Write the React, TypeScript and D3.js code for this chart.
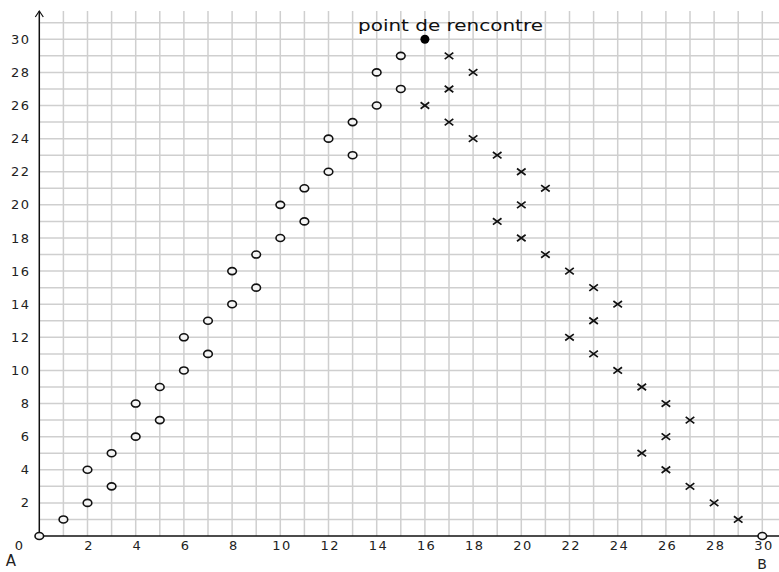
import React from "react";
import * as d3 from "d3";

const circleX = [0, 1, 2, 2, 3, 3, 4, 4, 5, 5, 6, 6, 7, 7, 8, 8, 9, 9, 10, 10, 11, 11, 12, 12, 13, 13, 14, 14, 15, 15, 30];
const circleY = [0, 1, 2, 4, 3, 5, 6, 8, 7, 9, 10, 12, 11, 13, 14, 16, 15, 17, 18, 20, 19, 21, 22, 24, 23, 25, 26, 28, 27, 29, 0];
const crossX = [16, 17, 17, 17, 18, 18, 19, 19, 20, 20, 20, 21, 21, 22, 22, 23, 23, 23, 24, 24, 25, 25, 26, 26, 26, 27, 27, 28, 29];
const crossY = [26, 29, 27, 25, 28, 24, 23, 19, 22, 20, 18, 21, 17, 16, 12, 15, 13, 11, 14, 10, 9, 5, 8, 6, 4, 7, 3, 2, 1];
const meetPoint = [16, 30];
const meetLabel = "point de rencontre";
const xTicks = [2, 4, 6, 8, 10, 12, 14, 16, 18, 20, 22, 24, 26, 28, 30];
const yTicks = [2, 4, 6, 8, 10, 12, 14, 16, 18, 20, 22, 24, 26, 28, 30];

export default function App() {
  const W = 779, H = 572;
  const x = d3.scaleLinear().domain([0, 30]).range([39.3, 762.3]);
  const y = d3.scaleLinear().domain([0, 30]).range([536, 39.3]);
  const gridX = d3.range(1, 32);
  const gridY = d3.range(1, 32);
  const font = "'DejaVu Sans', sans-serif";
  const cs = 4.3;
  const lenFor = (t: number) => (String(t).length > 1 ? { textLength: 18, lengthAdjust: "spacing" } : {});
  return (
    <svg width={W} height={H} style={{ position: "absolute", left: 0, top: 0, background: "#fff" }}>
      <rect width={W} height={H} fill="#fff" />
      {gridX.map((g) => (
        <line key={"gx" + g} x1={x(g)} x2={x(g)} y1={11} y2={y(0)} stroke="#cfcfcf" strokeWidth={1.5} />
      ))}
      {gridY.map((g) => (
        <line key={"gy" + g} x1={x(0)} x2={W} y1={y(g)} y2={y(g)} stroke="#cfcfcf" strokeWidth={1.5} />
      ))}
      <line x1={x(0)} x2={W} y1={y(0)} y2={y(0)} stroke="#111" strokeWidth={1.5} />
      <line x1={x(0)} x2={x(0)} y1={y(0)} y2={11} stroke="#111" strokeWidth={1.5} />
      <path d={`M${x(0) - 4},${17} L${x(0)},${11} L${x(0) + 4},${17}`} fill="none" stroke="#111" strokeWidth={1.2} />
      {xTicks.map((t) => (
        <text key={"xt" + t} x={x(t) + 1} y={550} textAnchor="middle" fontFamily={font} fontSize={13} fill="#222" {...lenFor(t)}>{t}</text>
      ))}
      <text x={19} y={550} textAnchor="middle" fontFamily={font} fontSize={13} fill="#222">0</text>
      {yTicks.map((t) => (
        <text key={"yt" + t} x={29} y={y(t) + 4.6} textAnchor="end" fontFamily={font} fontSize={13} fill="#222" {...lenFor(t)}>{t}</text>
      ))}
      <text x={11} y={566} textAnchor="middle" fontFamily={font} fontSize={15} fill="#222">A</text>
      <text x={762} y={569} textAnchor="middle" fontFamily={font} fontSize={14} fill="#222">B</text>
      {circleX.map((cx, i) => (
        <ellipse key={"c" + i} cx={x(cx)} cy={y(circleY[i])} rx={4.3} ry={3.5} fill="#f4f4f4" stroke="#111" strokeWidth={1.6} />
      ))}
      {crossX.map((cx, i) => {
        const px = x(cx), py = y(crossY[i]);
        return (
          <path key={"x" + i} d={`M${px - cs},${py - cs * 0.75} L${px + cs},${py + cs * 0.75} M${px - cs},${py + cs * 0.75} L${px + cs},${py - cs * 0.75}`} stroke="#111" strokeWidth={1.7} />
        );
      })}
      <circle cx={x(meetPoint[0])} cy={y(meetPoint[1])} r={4.5} fill="#000" />
      <text x={358} y={31} fontFamily={font} fontSize={15} textLength={185} lengthAdjust="spacingAndGlyphs" fill="#111">{meetLabel}</text>
    </svg>
  );
}
